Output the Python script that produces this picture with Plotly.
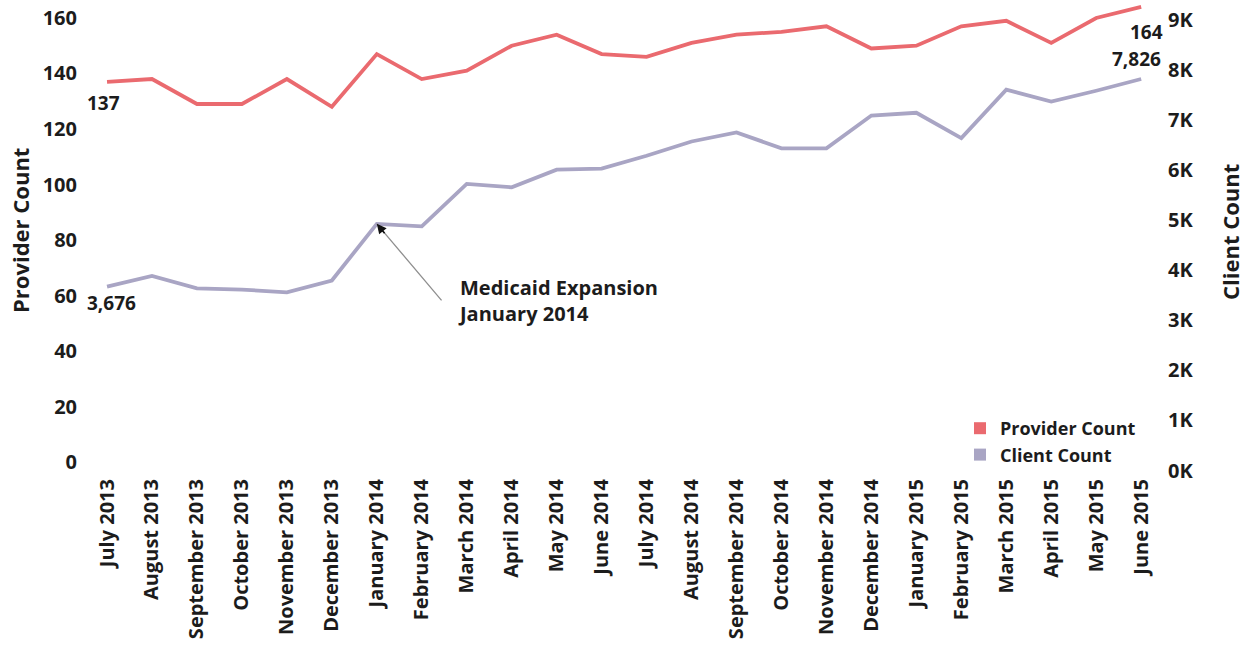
import plotly.graph_objects as go

# Monthly series, July 2013 - June 2015
months = [
    "July 2013", "August 2013", "September 2013", "October 2013",
    "November 2013", "December 2013", "January 2014", "February 2014",
    "March 2014", "April 2014", "May 2014", "June 2014",
    "July 2014", "August 2014", "September 2014", "October 2014",
    "November 2014", "December 2014", "January 2015", "February 2015",
    "March 2015", "April 2015", "May 2015", "June 2015",
]
provider_count = [137, 138, 129, 129, 138, 128, 147, 138, 141, 150, 154, 147,
                  146, 151, 154, 155, 157, 149, 150, 157, 159, 151, 160, 164]
client_count = [3676, 3890, 3640, 3616, 3562, 3799, 4931, 4882, 5729, 5662,
                6014, 6034, 6292, 6577, 6760, 6440, 6440, 7097, 7152, 6644,
                7613, 7375, 7592, 7826]

provider_ticks = [0, 20, 40, 60, 80, 100, 120, 140, 160]
client_ticks = [0, 1000, 2000, 3000, 4000, 5000, 6000, 7000, 8000, 9000]
client_ticktext = ["0K", "1K", "2K", "3K", "4K", "5K", "6K", "7K", "8K", "9K"]

event_month = "January 2014"
event_text = "Medicaid Expansion<br>January 2014"

PROVIDER_COLOR = "#EA6A6F"
CLIENT_COLOR = "#A9A5C4"
TEXT_COLOR = "#1c1c1c"
FONT = "Open Sans"

W, H = 1248, 649
M_L, M_R, M_T, M_B = 85, 83, 5, 175
PLOT_H = H - M_B - M_T

fig = go.Figure()

fig.add_trace(go.Scatter(
    x=months, y=provider_count, mode="lines", name="Provider Count",
    line=dict(color=PROVIDER_COLOR, width=3.8), showlegend=False, yaxis="y",
))
fig.add_trace(go.Scatter(
    x=months, y=client_count, mode="lines", name="Client Count",
    line=dict(color=CLIENT_COLOR, width=3.8), showlegend=False, yaxis="y2",
))

# square legend swatches
fig.add_trace(go.Scatter(
    x=[None], y=[None], mode="markers", name="Provider Count",
    marker=dict(symbol="square", size=16, color=PROVIDER_COLOR),
))
fig.add_trace(go.Scatter(
    x=[None], y=[None], mode="markers", name="Client Count",
    marker=dict(symbol="square", size=16, color=CLIENT_COLOR), yaxis="y2",
))

bold = dict(family=FONT, size=20, color=TEXT_COLOR, weight="bold")
label_font = dict(family=FONT, size=19, color=TEXT_COLOR, weight="bold")
title_font = dict(family=FONT, size=22, color=TEXT_COLOR, weight="bold")

event_value = client_count[months.index(event_month)]

annotations = [
    # first / last value labels
    dict(x=months[0], y=provider_count[0], yref="y", text=f"{provider_count[0]:,}",
         showarrow=False, xshift=-4, yshift=-21, font=label_font),
    dict(x=months[0], y=client_count[0], yref="y2", text=f"{client_count[0]:,}",
         showarrow=False, xshift=4, yshift=-16, font=label_font),
    dict(x=months[-1], y=provider_count[-1], yref="y", text=f"{provider_count[-1]:,}",
         showarrow=False, xshift=5, yshift=-25, font=label_font, borderpad=0),
    dict(x=months[-1], y=client_count[-1], yref="y2", text=f"{client_count[-1]:,}",
         showarrow=False, xanchor="right", xshift=21, yshift=20, font=label_font,
         borderpad=0),
    # event callout: grey leader line plus a dark arrow head
    dict(x=event_month, y=event_value, yref="y2",
         text="", showarrow=True, arrowhead=0, arrowwidth=1.3,
         arrowcolor="#8f8f8f", ax=66, ay=78),
    dict(x=event_month, y=event_value, yref="y2",
         text="", showarrow=True, arrowhead=2, arrowsize=1.2, arrowwidth=1.6,
         arrowcolor="#111111", ax=9, ay=11),
    dict(x=event_month, y=event_value, yref="y2",
         text=event_text, showarrow=False, xanchor="left", yanchor="middle",
         align="left", xshift=79, yshift=-77, font=bold),
    # axis titles
    dict(xref="paper", yref="paper", x=0, y=(H - M_B - 231) / PLOT_H,
         xanchor="center", yanchor="middle",
         xshift=20 - M_L, text="Provider Count", textangle=-90, showarrow=False,
         font=title_font),
    dict(xref="paper", yref="paper", x=1, y=(H - M_B - 232) / PLOT_H,
         xanchor="center", yanchor="middle",
         xshift=1230 - (W - M_R), text="Client Count", textangle=-90, showarrow=False,
         font=title_font),
]

fig.update_layout(
    width=W, height=H,
    margin=dict(l=M_L, r=M_R, t=M_T, b=M_B, autoexpand=False),
    paper_bgcolor="white", plot_bgcolor="white",
    font=dict(family=FONT, color=TEXT_COLOR, size=20, weight="bold"),
    showlegend=True,
    legend=dict(
        x=(960 - M_L) / (W - M_L - M_R), xanchor="left",
        y=(H - M_B - 410) / PLOT_H, yanchor="top",
        font=dict(family=FONT, size=18, color=TEXT_COLOR, weight="bold"),
        bgcolor="rgba(0,0,0,0)", itemsizing="constant",
        tracegroupgap=0,
    ),
    xaxis=dict(
        type="category", range=[-0.49, 23.53],
        tickangle=-90, ticks="", showgrid=False, zeroline=False, showline=False,
        tickfont=dict(family=FONT, size=20, color=TEXT_COLOR, weight="bold"),
        automargin=False,
    ),
    yaxis=dict(
        range=[-4.32, 164.68], tickvals=provider_ticks, ticks="",
        showgrid=False, zeroline=False, showline=False, ticklabelstandoff=7,
        tickfont=dict(family=FONT, size=20, color=TEXT_COLOR, weight="bold"),
        automargin=False,
    ),
    yaxis2=dict(
        range=[-70, 9306], tickvals=client_ticks, ticktext=client_ticktext,
        overlaying="y", side="right", ticks="", ticklabelstandoff=2,
        showgrid=False, zeroline=False, showline=False,
        tickfont=dict(family=FONT, size=20, color=TEXT_COLOR, weight="bold"),
        automargin=False,
    ),
    annotations=annotations,
    hovermode=False,
)

fig.write_html("out.html")
